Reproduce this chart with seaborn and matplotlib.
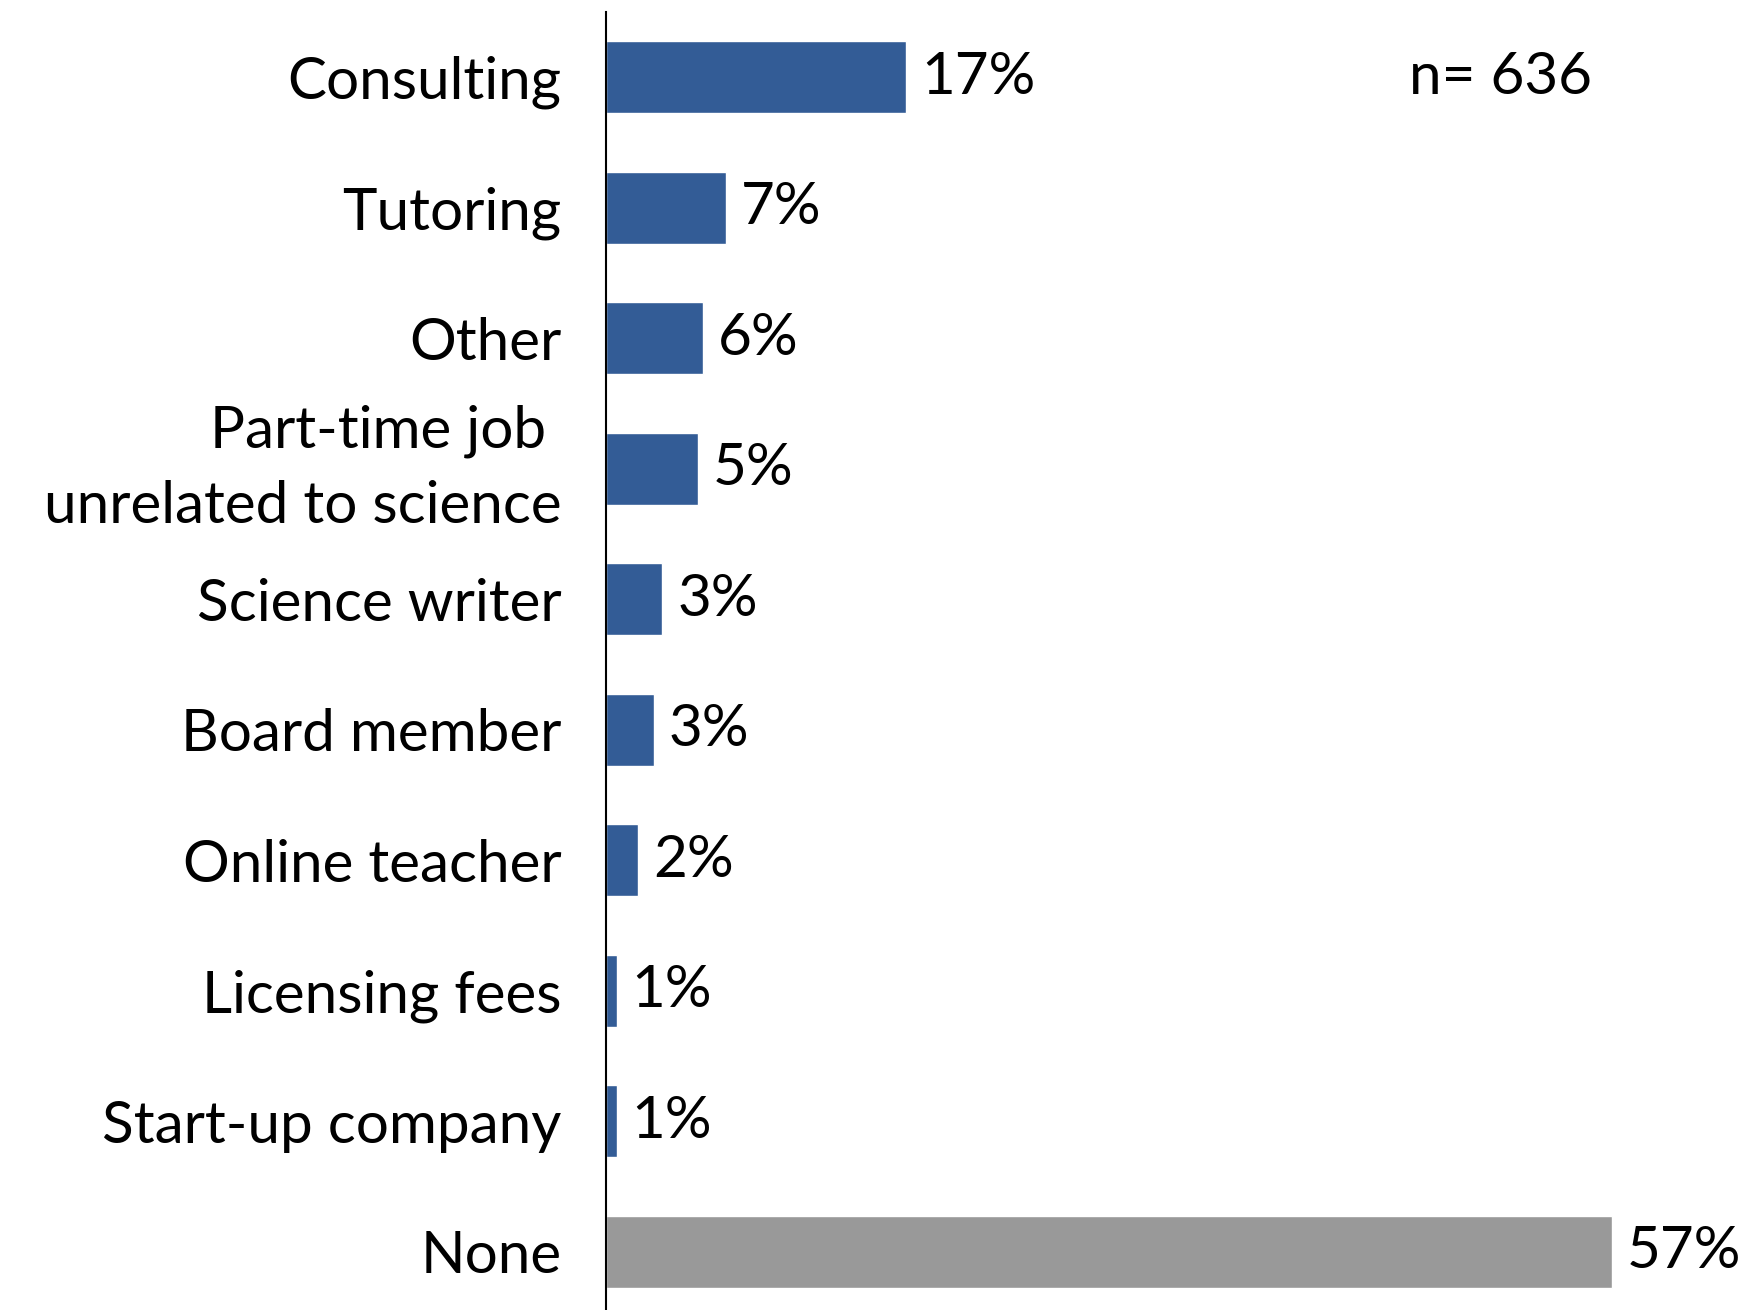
import matplotlib
matplotlib.use("Agg")
import matplotlib.pyplot as plt
import seaborn as sns
import pandas as pd

# Survey: sources of additional income (share of respondents)
categories = [
    "Consulting",
    "Tutoring",
    "Other",
    "Part-time job \nunrelated to science",
    "Science writer",
    "Board member",
    "Online teacher",
    "Licensing fees",
    "Start-up company",
    "None",
]
shares = [17.0, 6.8, 5.5, 5.2, 3.2, 2.7, 1.8, 0.6, 0.6, 57.0]
sample_note = "n= 636"

blue = "#335C96"
gray = "#999999"
bar_colors = [gray if c == "None" else blue for c in categories]

sns.set_theme(style="white")
plt.rcParams["font.family"] = ["Lato", "DejaVu Sans"]

df = pd.DataFrame({"category": categories, "share": shares})

fig = plt.figure(figsize=(17.58, 13.10), dpi=100)
ax = fig.add_axes([0.3447, -0.0053, 0.6024, 0.9962])

sns.barplot(
    data=df, x="share", y="category", hue="category",
    palette=bar_colors, legend=False, orient="h",
    width=0.55, saturation=1, ax=ax,
)

ax.set_xlim(0, 60)
ax.set_ylim(9.5, -0.5)
ax.set_xlabel("")
ax.set_ylabel("")
ax.set_xticks([])

for side in ["top", "right", "bottom"]:
    ax.spines[side].set_visible(False)
ax.spines["left"].set_color("black")
ax.spines["left"].set_linewidth(1.5)

ax.tick_params(axis="y", length=0, pad=32, labelsize=42)
for lbl in ax.get_yticklabels():
    lbl.set_color("black")
    if "\n" in lbl.get_text():
        lbl.set_linespacing(1.5)
        lbl.set_verticalalignment("center")

for i, v in enumerate(shares):
    ax.text(v + 0.85, i, f"{v:.0f}%", va="center", ha="left",
            fontsize=42, color="black")

ax.text(45.5, 0, sample_note, va="center", ha="left", fontsize=42, color="black")

fig.savefig("out.png", dpi=100)
